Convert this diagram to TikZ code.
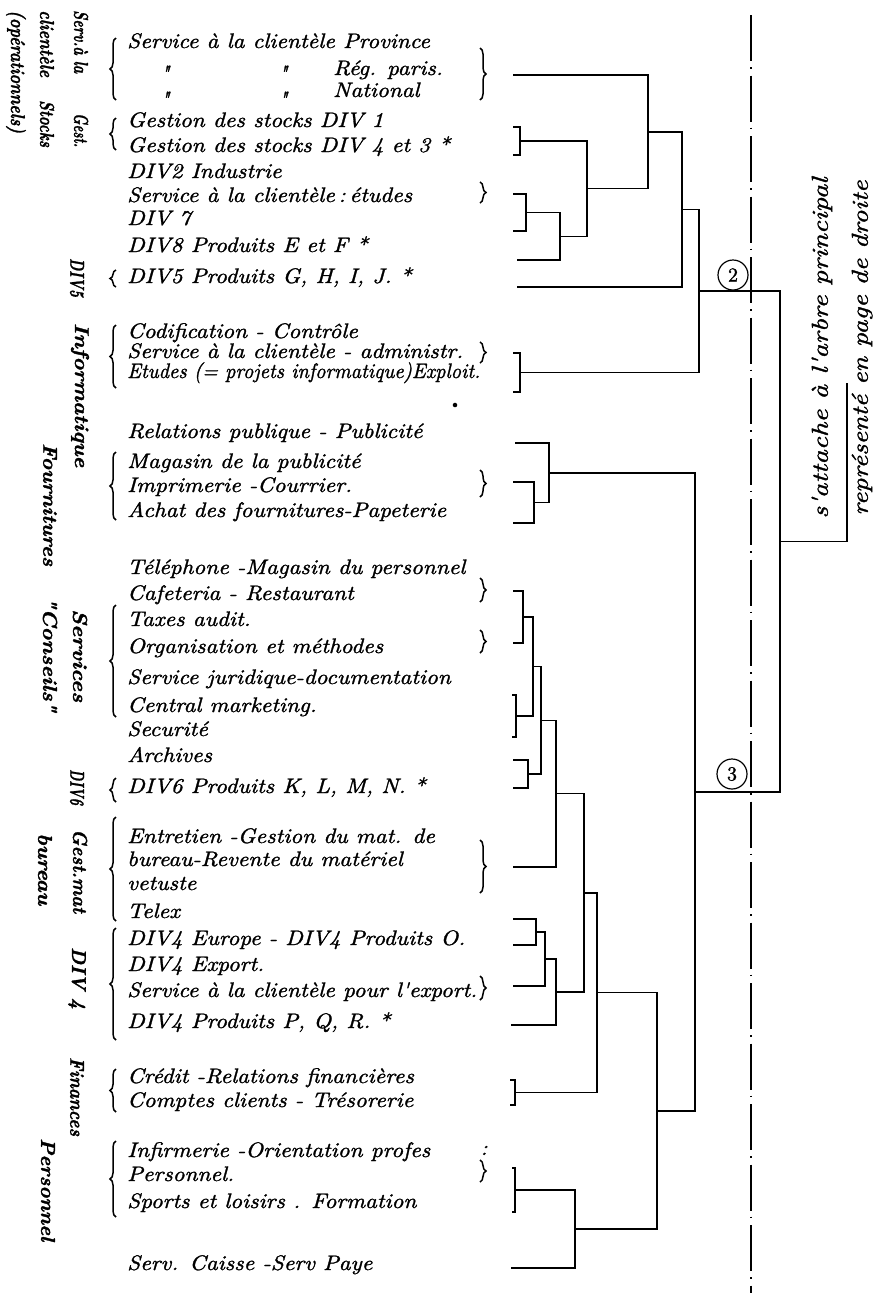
\documentclass[tikz,border=0pt]{standalone}
\usepackage{graphicx}
\usepackage{fontspec}
\usepackage{tikz}
\usetikzlibrary{calc, decorations.pathreplacing}

\newfontfamily\hand{lmroman10-regular.otf}[ItalicFont=lmroman10-italic.otf,
  FakeBold=1.3]
\newfontfamily\handgras{lmroman10-bold.otf}[ItalicFont=lmroman10-bolditalic.otf,
  FakeBold=1.6]

% texte mis a la longueur voulue (en pt)
\newcommand\fitw[2]{\setbox0=\hbox{#2}%
  \pgfmathsetmacro\fitsc{#1/\the\wd0}\scalebox{\fitsc}[1]{#2}}

\begin{document}
\begin{tikzpicture}[
  x=1pt, y=-1pt,
  ligne/.style={anchor=west, inner sep=0pt, text height=15pt, text depth=5pt,
                font=\hand\fontsize{21}{25}\selectfont\itshape, xscale=1.1},
  idem/.style={anchor=base, inner sep=0pt,
               font=\hand\fontsize{22}{22}\selectfont\itshape},
  grp/.style={anchor=west, inner sep=0pt, rotate=-90,
              font=\handgras\fontsize{20}{24}\selectfont\itshape},
  arbre/.style={line width=1.5pt},
  accol/.style={decorate, decoration={brace, amplitude=6pt}, line width=1.5pt},
  axe/.style={line width=1.6pt, dash pattern=on 46pt off 6pt on 1.5pt off 7pt},
  repere/.style={circle, draw, line width=1.2pt, minimum size=30pt, inner sep=0pt,
                 font=\hand\fontsize{20}{20}\selectfont}
]
\useasboundingbox (0,0) rectangle (887,1302);

% lignes de texte
\foreach \n/\yy/\t in {
  1/43/{Service à la clientèle Province},
  4/122/{Gestion des stocks DIV 1},
  5/147/{Gestion des stocks DIV 4 et 3 *},
  6/173/{DIV2 Industrie},
  7/197/{Service à la clientèle\,:\,études},
  8/220/{DIV 7},
  9/247/{DIV8 Produits E et F *},
  10/278/{DIV5 Produits G, H, I, J. *},
  11/333/{Codification - Contrôle},
  12/353/{Service à la clientèle - administr.},
  13/373/{\fitw{321}{Etudes (= projets informatique)Exploit.}},
  14/433/{Relations publique - Publicité},
  15/463/{Magasin de la publicité},
  16/487/{Imprimerie -Courrier.},
  17/512/{Achat des fournitures-Papeterie},
  18/569/{Téléphone -Magasin du personnel},
  19/595/{Cafeteria - Restaurant},
  20/621/{Taxes audit.},
  21/648/{Organisation et méthodes},
  22/679/{Service juridique-documentation},
  23/707/{Central marketing.},
  24/731/{Securité},
  25/757/{Archives},
  26/788/{DIV6 Produits K, L, M, N. *},
  27/838/{Entretien -Gestion du mat. de},
  28/861/{bureau-Revente du matériel},
  29/885/{vetuste},
  30/913/{Telex},
  31/940/{DIV4 Europe - DIV4 Produits O.},
  32/966/{DIV4 Export.},
  33/992/{Service à la clientèle pour l'export.},
  34/1023/{DIV4 Produits P, Q, R. *},
  35/1078/{Crédit -Relations financières},
  36/1102/{Comptes clients - Trésorerie},
  37/1152/{Infirmerie -Orientation profes},
  38/1176/{Personnel.},
  39/1203/{Sports et loisirs . Formation},
  40/1265/{Serv. Caisse -Serv Paye}}
  \node[ligne] (t\n) at (127,\yy) {\t};
\node[ligne] (t2) at (333,70) {Rég. paris.};
\node[ligne] (t3) at (333,92) {National};
\foreach \n/\xx/\yy in {2a/165/81, 2b/283/81, 3a/165/107, 3b/283/107}
  \node[idem] (d\n) at (\xx,\yy) {"};
\node[ligne, anchor=center] (dp) at (484,1150) {:};
\node[circle, fill, inner sep=1.6pt] (pt) at (455,405) {};

% groupes
\foreach \n/\xx/\yy/\w/\t in {
  sa/81/10/63/{Serv.à la}, sb/47/10/67/{clientèle}, sc/16/10/123/{(opérationnels)},
  ga/81/113/34/{Gest.}, gb/47/100/47/{Stocks}, d5/77/258/39/{DIV5},
  in/80/323/144/{Informatique}, fo/50/443/123/{Fournitures},
  se/80/609/93/{Services}, co/50/597/115/{"Conseils"}, d6/77/769/36/{DIV6},
  gm/80/829/84/{Gest.mat}, bu/45/833/72/{bureau}, d4/77/947/62/{DIV 4},
  fi/77/1057/79/{Finances}, pe/48/1138/103/{Personnel}}
  \node[grp] (g\n) at (\xx,\yy) {\fitw{\w}{\t}};

% accolades
\foreach \ya/\yb in {38/100, 118/150, 270/287, 325/388, 452/520, 605/717,
  778/802, 817/921, 928/1040, 1069/1112, 1141/1217}
  \draw[accol] (116,\yb) -- (116,\ya);
\foreach \ya/\yb in {48/100, 182/203, 342/363, 470/497, 578/602, 630/653,
  840/893, 976/1000, 1160/1182}
  \draw[accol] (480,\ya) -- (480,\yb);

% feuilles
\foreach \nm/\xl/\xr/\ya/\yb in {GS/513/520/127/155, ET/513/526/194/231,
  IN/513/520/353/392, MG/513/534/482/523, TC/513/523/591/643,
  SJ/512/516/695/737, D6/513/528/760/788, EU/513/536/919/945,
  FI/510/515/1080/1105, PE/512/515/1168/1212} {
  \draw[arbre] (\xl,\ya) -| (\xr,\yb) -- (\xl,\yb);
  \coordinate (\nm) at (\xr,{(\ya+\yb)/2});
}
\foreach \nm/\xl/\yy in {SC/513/75, D8/517/260, D5/517/287, RP/515/443,
  GM/513/867, EX/513/986, PQ/511/1025, SP/511/1268}
  \coordinate (\nm) at (\xl,\yy);

% regroupements
\foreach \nm/\ja/\jb/\jx in {j1/ET/D8/560, j2/GS/j1/587, j3/SC/j2/648,
  j4/j3/D5/682, j5/j4/IN/699, k1/RP/MG/549, k2/TC/SJ/533, k3/k2/D6/541,
  k4/k3/GM/556, k5/EU/EX/545, k6/k5/PQ/556, k7/k4/k6/584, k8/k7/FI/597,
  k9/PE/SP/575, k10/k8/k9/657, k11/k1/k10/695, root/j5/k11/780} {
  \draw[arbre] let \p1=(\ja), \p2=(\jb) in
    (\ja) -- (\jx pt,\y1) -- (\jx pt,\y2) -- (\jb);
  \path let \p1=(\ja), \p2=(\jb) in
    coordinate (\nm) at (\jx pt,{0.5*(\y1+\y2)});
}
\coordinate (att) at (847,383);
\draw[arbre] (root) -| (att);

\coordinate (axh) at (751,15);
\coordinate (axb) at (751,1293);
\draw[axe] (axh) -- (axb);
\node[repere] (c2) at (733,275) {2};
\node[repere] (c3) at (732,774) {3};

\node[rotate=90, align=center, inner sep=0pt,
      font=\hand\fontsize{23}{40}\selectfont\itshape] (note) at (842,348)
  {\fitw{341}{s'attache à l'arbre principal}\\
   \fitw{335}{représenté en page de droite}};
\end{tikzpicture}
\end{document}
